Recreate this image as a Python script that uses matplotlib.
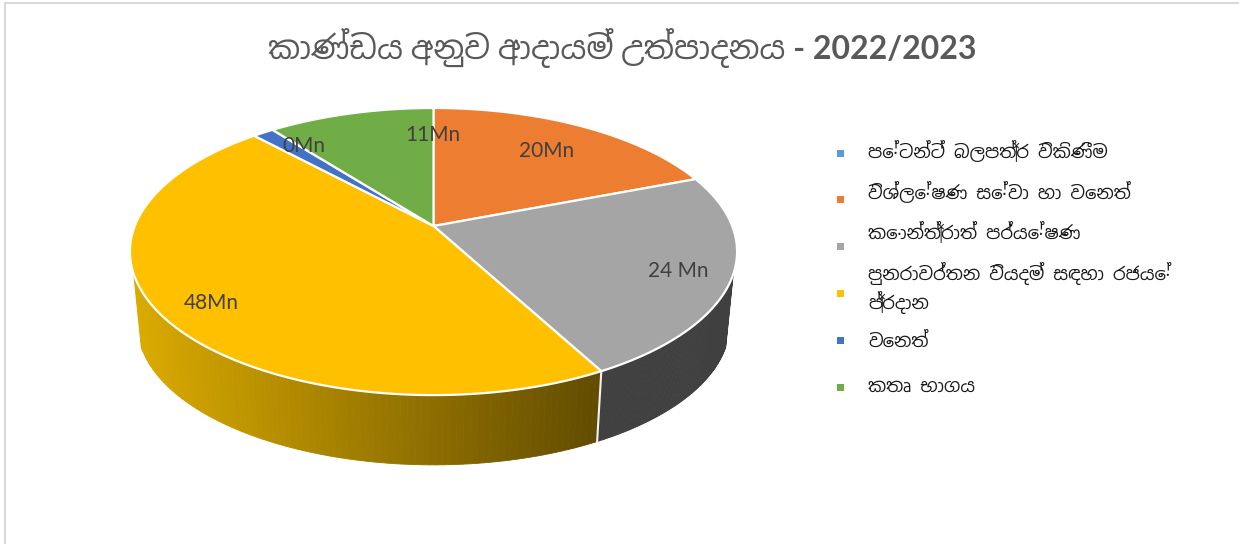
import matplotlib
matplotlib.use('Agg')
import matplotlib.pyplot as plt
from matplotlib.patches import Polygon, Rectangle
import numpy as np

title = 'කාණ්ඩය අනුව ආදායම් උත්පාදනය - 2022/2023'
categories = ['පේටන්ට් බලපත්‍ර විකිණීම', 'විශ්ලේෂණ සේවා හා වෙනත්', 'කොන්ත්‍රාත් පර්යේෂණ',
              'පුනරාවර්තන වියදම් සඳහා රජයේ\nප්‍රදාන', 'වෙනත්', 'කතෘ භාගය']
values = [0, 20, 24, 48, 1.4, 11]
labels = ['', '20Mn', '24 Mn', '48Mn', '0Mn', '11Mn']
colors = ['#5B9BD5', '#ED7D31', '#A5A5A5', '#FFC000', '#4472C4', '#70AD47']
wall_colors = [None, None, '#404040', 'gradient', None, None]

sinhala_fonts = ['Noto Sans Sinhala', 'Noto Sans', 'DejaVu Sans']
plt.rcParams['font.family'] = ['Lato', 'Noto Sans Sinhala', 'DejaVu Sans']

fig = plt.figure(figsize=(12.39, 5.44), dpi=100)
ax = fig.add_axes([0, 0, 1, 1])
ax.set_xlim(0, 1239)
ax.set_ylim(544, 0)
ax.axis('off')

# chart frame, left and top only show in the crop
ax.plot([4.5, 4.5, 1239], [544, 2.5, 2.5], color='#D9D9D9', lw=1.5)

# tilted disc: clock angle -> pixels, perspective moves the apex off the ellipse centre
cx, cy = 433.5, 226
a, b, k = 298.7, 139, 0.178


def top_pts(t):
    d = 1 + k * np.cos(t)
    return cx + a * np.sin(t) / d, cy - b * np.cos(t) / d


def bottom_pts(t):
    x, y = top_pts(t)
    return cx + 0.975 * (x - cx), cy + 0.975 * (y - cy) + 74


edges = np.cumsum([0] + values) / sum(values) * 2 * np.pi

# side wall first, only the front part can be seen
for i in range(len(values)):
    if wall_colors[i] is None:
        continue
    t1 = max(edges[i], np.radians(109))
    t2 = min(edges[i + 1], np.radians(251))
    ts = np.linspace(t1, t2, 90)
    for j in range(len(ts) - 1):
        x1, y1 = top_pts(ts[j:j + 2])
        x2, y2 = bottom_pts(ts[j:j + 2])
        if wall_colors[i] == 'gradient':
            f = np.clip((x1.mean() - 135) / (597 - 135), 0, 1)
            c = (np.array([218, 170, 0]) * (1 - f) + np.array([98, 76, 0]) * f) / 255
        else:
            c = wall_colors[i]
        ax.add_patch(Polygon(np.column_stack([np.r_[x1, x2[::-1]], np.r_[y1, y2[::-1]]]),
                             closed=True, fc=c, ec=c, lw=0.6, zorder=2))

# white seam between the two visible wall pieces
sx1, sy1 = top_pts(edges[3])
sx2, sy2 = bottom_pts(edges[3])
ax.plot([sx1, sx2], [sy1, sy2], color='#F2F2F2', lw=1.5, zorder=3)

# top face
for i in range(len(values)):
    if values[i] == 0:
        continue
    ts = np.linspace(edges[i], edges[i + 1], 120)
    x, y = top_pts(ts)
    ax.add_patch(Polygon(np.column_stack([np.r_[cx, x], np.r_[cy, y]]), closed=True,
                         fc=colors[i], ec='white', lw=1.6, joinstyle='round', zorder=4))

# data labels
label_pos = [None, (547, 151), (678, 271), (211, 303), (304, 146), (433, 135)]
for lab, pos in zip(labels, label_pos):
    if pos is not None:
        ax.text(pos[0], pos[1], lab, ha='center', va='center', fontsize=15, color='#404040', zorder=5)

ax.text(622.5, 48, title, ha='center', va='center', fontsize=23, fontweight='bold', color='#595959',
        family=['Lato'] + sinhala_fonts)

# legend
marker_y = [153, 199, 246, 293, 340, 387]
text_y = [151, 192, 232, 288, 342, 387]
for name, c, my, ty in zip(categories, colors, marker_y, text_y):
    ax.add_patch(Rectangle((836.5, my - 3.5), 7, 7, fc=c, ec='none'))
    ax.text(868, ty, name, ha='left', va='center', fontsize=13, color='#1A1A1A', linespacing=1.3,
            family=sinhala_fonts)

fig.savefig('out.png', dpi=100)
